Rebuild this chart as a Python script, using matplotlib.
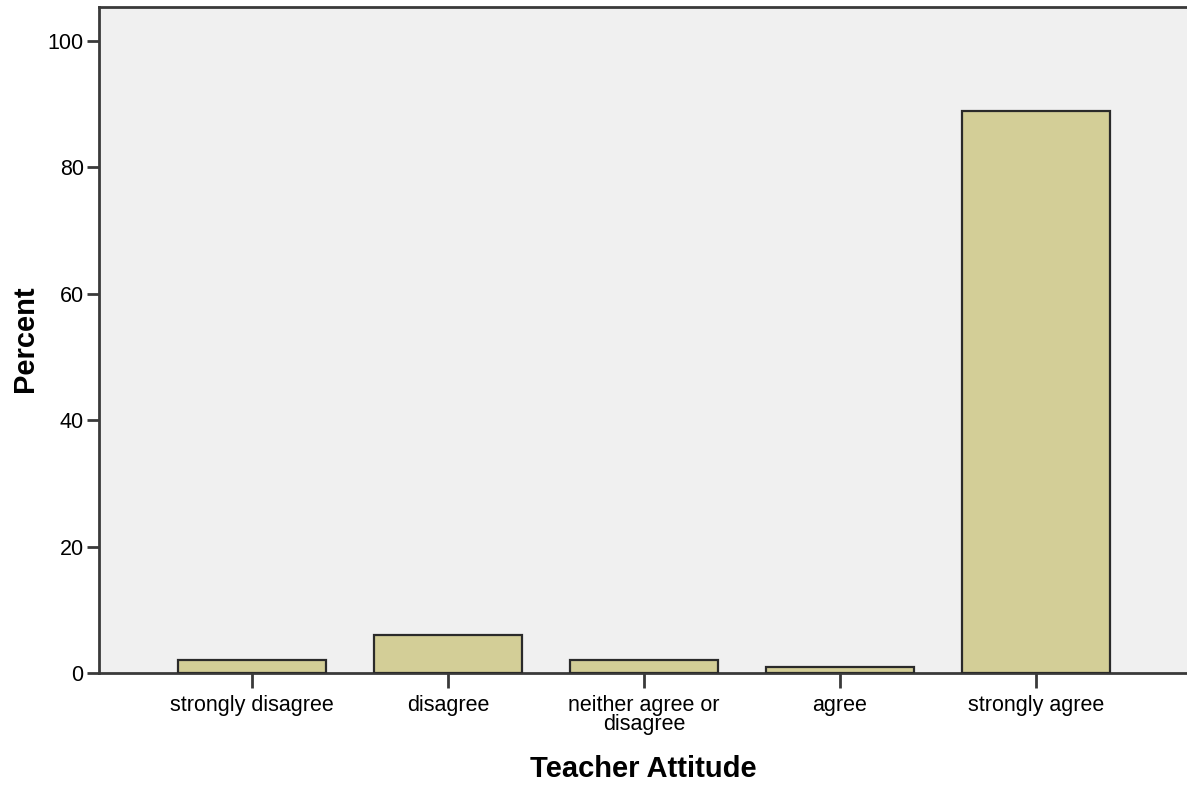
import matplotlib
matplotlib.use("Agg")
import matplotlib.pyplot as plt

categories = ["strongly disagree", "disagree", "neither agree or\ndisagree", "agree", "strongly agree"]
percent = [2, 6, 2, 1, 89]
yticks = [0, 20, 40, 60, 80, 100]

plt.rcParams['font.family'] = ['Liberation Sans', 'DejaVu Sans']

fig = plt.figure(figsize=(11.87, 7.87), dpi=100)
W, H = 1187, 787
left, right, top, bottom = 99, 1187, 7, 673
ax = fig.add_axes([left / W, 1 - bottom / H, (right - left) / W, (bottom - top) / H])
ax.set_facecolor('#F0F0F0')

x = list(range(len(categories)))
ax.bar(x, percent, width=0.755, color='#D3CE97', edgecolor='#2a2a2a', linewidth=1.6, zorder=3)

ax.set_xlim(-0.78, 4.77)
ax.set_ylim(0, 105.4)
ax.set_yticks(yticks)
ax.set_yticklabels([str(v) for v in yticks], fontsize=15.5)
ax.set_xticks(x)
ax.set_xticklabels(categories, fontsize=15.5, linespacing=0.85)

for s in ['left', 'top', 'bottom']:
    ax.spines[s].set_color('#3a3a3a')
    ax.spines[s].set_linewidth(2)
ax.spines['right'].set_visible(False)
ax.tick_params(axis='y', length=9, width=2, color='#3a3a3a', pad=2)
ax.tick_params(axis='x', length=11, width=2, color='#3a3a3a', pad=5)

axw = right - left
axh = bottom - top
ax.set_ylabel('Percent', fontsize=21, fontweight='bold', va='center', ha='center')
ax.yaxis.set_label_coords((25 - left) / axw, (bottom - 339) / axh)
ax.set_xlabel('Teacher Attitude', fontsize=21, fontweight='bold', va='center', ha='center')
ax.xaxis.set_label_coords((643 - left) / axw, (bottom - 769) / axh)

fig.savefig('out.png', dpi=100)
